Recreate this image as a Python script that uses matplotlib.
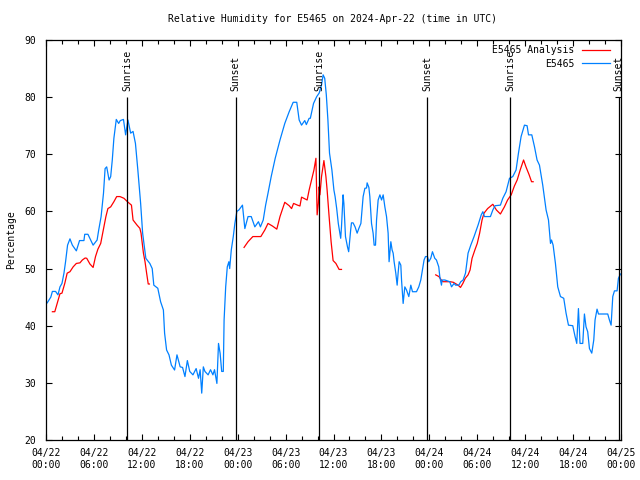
import numpy as np
import pandas as pd
import matplotlib
matplotlib.use('Agg')
import matplotlib.pyplot as plt
import matplotlib.dates as mdates

plt.rcParams['font.family'] = 'DejaVu Sans Mono'
plt.rcParams['font.size'] = 7

start = pd.Timestamp('2024-04-22 00:00')
end = pd.Timestamp('2024-04-25 00:00')

# observed RH, hours after 04/22 00:00 UTC
obs_h = [0.15, 0.6, 0.8, 1.2, 1.5, 1.75, 2.0, 2.25, 2.45, 2.7, 3.0, 3.3, 3.8, 4.2, 4.75, 4.85,
         5.25, 5.9, 6.4, 6.6, 6.9, 7.2, 7.4, 7.6, 7.9, 8.1, 8.3, 8.5, 8.8, 9.1, 9.3, 9.7,
         9.97, 10.26, 10.6, 10.9, 11.2, 11.5, 11.85, 12.1, 12.5, 13.0, 13.3, 13.5, 14.0, 14.35,
         14.7, 14.85, 15.1, 15.4, 15.7, 16.1, 16.4, 16.8, 17.1, 17.4, 17.7, 18.0, 18.4, 18.8,
         19.1, 19.3, 19.5, 19.7, 19.9, 20.3, 20.6, 20.9, 21.1, 21.4, 21.6, 21.8, 22.0, 22.2,
         22.3, 22.5, 22.7, 22.9, 23.0, 23.2, 23.45, 23.65, 23.9, 24.15, 24.6, 24.9, 25.3, 25.7,
         26.15, 26.6, 26.85, 27.2, 27.5, 27.8, 28.2, 28.7, 29.3, 29.9, 30.45, 30.95, 31.4, 31.7,
         32.0, 32.4, 32.6, 32.95, 33.1, 33.5, 33.9, 34.2, 34.5, 34.7, 34.9, 35.1, 35.3, 35.5,
         35.8, 36.05, 36.2, 36.4, 36.6, 36.8, 36.9, 37.0, 37.2, 37.3, 37.5, 37.75, 37.9, 38.15,
         38.25, 38.45, 38.7, 38.96, 39.18, 39.43, 39.71, 39.93, 40.14, 40.21, 40.43, 40.55,
         40.76, 40.96, 41.09, 41.26, 41.39, 41.59, 41.81, 42.02, 42.22, 42.43, 42.64, 42.84,
         42.96, 43.18, 43.34, 43.47, 43.59, 43.8, 43.97, 44.09, 44.22, 44.43, 44.52, 44.72,
         44.93, 45.14, 45.43, 45.68, 45.89, 46.39, 46.68, 46.93, 47.14, 47.34, 47.52, 47.77,
         47.93, 48.18, 48.39, 48.68, 48.89, 49.18, 49.31, 49.52, 49.6, 49.94, 50.56, 50.78,
         51.1, 51.28, 51.69, 51.94, 52.23, 52.53, 52.85, 53.19, 53.6, 54.1, 54.5, 54.7, 54.9,
         55.65, 55.95, 56.23, 56.9, 57.2, 57.61, 58.04, 58.45, 58.86, 59.16, 59.49, 59.91,
         60.24, 60.42, 60.83, 61.17, 61.49, 61.79, 62.2, 62.62, 62.92, 63.17, 63.3, 63.5,
         63.79, 64.08, 64.42, 64.83, 65.12, 65.42, 65.96, 66.25, 66.46, 66.67, 66.87, 67.21,
         67.42, 67.62, 67.83, 68.05, 68.34, 68.59, 68.75, 69.0, 69.18, 70.34, 70.55, 70.76,
         70.97, 71.18, 71.51, 71.68, 71.93]
obs_v = [44.0, 45.0, 46.0, 46.0, 45.4, 46.8, 47.4, 49.2, 51.2, 54.1, 55.2, 54.1, 53.1, 54.9, 54.9, 56.0,
         56.0, 54.1, 55.0, 56.75, 59.1, 63.2, 67.5, 67.8, 65.5, 66.1, 69.0, 72.8, 76.1, 75.4, 75.9, 76.1,
         73.4, 76.0, 73.7, 74.0, 71.9, 67.25, 61.4, 56.2, 51.8, 50.9, 50.0, 47.1, 46.55, 44.2,
         42.75, 38.7, 35.75, 34.9, 33.1, 32.25, 34.9, 32.8, 32.7, 31.1, 33.9, 32.0, 31.4, 32.5,
         30.8, 32.3, 28.2, 32.8, 32.0, 31.4, 32.3, 31.4, 32.3, 29.9, 36.9, 35.2, 32.0, 32.0,
         41.0, 46.8, 50.3, 51.2, 50.0, 53.25, 55.6, 57.9, 60.0, 60.25, 61.1, 57.0, 59.1, 59.1,
         57.3, 58.2, 57.3, 58.5, 61.1, 63.2, 66.1, 69.3, 72.5, 75.4, 77.45, 79.1, 79.1, 76.0,
         75.1, 75.9, 75.2, 76.3, 76.3, 78.9, 80.1, 80.7, 82.1, 83.9, 83.3, 80.4, 76.0, 70.2,
         67.25, 63.75, 62.6, 60.5, 57.9, 56.2, 55.3, 57.3, 62.9, 61.4, 55.6, 53.8, 52.95, 56.75,
         58.0, 58.0, 57.3, 56.2, 57.05, 57.9, 62.6, 64.05, 64.1, 65.0, 64.2, 62.6,
         57.9, 56.2, 54.1, 54.1, 58.5, 62.0, 62.9, 62.0, 62.9, 60.8, 59.1, 56.2,
         51.2, 54.7, 53.25, 52.7, 51.2, 49.2, 47.1, 49.2, 51.2, 50.6, 48.0, 43.9,
         46.8, 46.25, 45.1, 47.1, 45.95, 45.95, 46.8, 48.0, 49.75, 51.5, 52.1, 52.1,
         51.2, 51.8, 52.95, 51.8, 51.5, 50.3, 48.6, 47.1, 48.0, 48.0, 47.7, 46.8,
         47.4, 47.1, 47.1, 47.7, 48.0, 49.2, 52.7, 54.1, 55.6, 57.6, 59.4, 59.95, 59.1,
         59.1, 60.25, 61.0, 61.1, 62.3, 63.45, 65.8, 66.1, 67.25, 70.2, 73.1, 75.1,
         75.0, 73.4, 73.4, 71.3, 69.0, 68.1, 64.6, 60.25, 58.5, 54.4, 55.0, 54.1,
         50.9, 46.8, 45.1, 44.8, 42.2, 40.1, 40.0, 38.1, 36.9, 43.0, 36.9, 36.9,
         42.05, 39.8, 38.95, 36.0, 35.2, 37.5, 41.0, 42.9, 42.05, 42.05, 41.0, 40.1,
         45.1, 46.1, 46.1, 48.3, 49.05]

# analysis RH, three separate runs
ana1_h = [0.8, 1.1, 1.4, 1.75, 2.0, 2.35, 2.65, 3.0, 3.4, 3.8, 4.25, 4.55, 4.9, 5.1, 5.5, 5.9,
          6.2, 6.5, 6.85, 7.25, 7.5, 7.75, 8.1, 8.5, 8.85, 9.26, 9.76, 10.2, 10.7, 10.9, 11.4,
          11.75, 11.9, 12.2, 12.4, 12.6, 12.8, 12.95]
ana1_v = [42.45, 42.45, 43.9, 45.6, 45.7, 47.4, 49.2, 49.45, 50.3, 50.9, 51.0, 51.5, 51.85, 51.8,
          50.8, 50.2, 52.1, 53.4, 54.4, 57.3, 59.1, 60.5, 60.8, 61.7, 62.6, 62.6, 62.3, 61.7,
          61.1, 58.5, 57.6, 57.05, 56.2, 52.7, 51.2, 49.2, 47.3, 47.3]
ana2_h = [24.8, 25.3, 25.9, 26.9, 27.4, 27.8, 28.35, 28.9, 29.3, 29.9, 30.45, 30.75, 31.0, 31.5,
          31.8, 32.0, 32.7, 32.95, 33.25, 33.55, 33.8, 33.95, 34.1, 34.2, 34.3, 34.5, 34.8,
          35.05, 35.2, 35.45, 35.7, 35.95, 36.3, 36.7, 37.0]
ana2_v = [53.7, 54.7, 55.6, 55.6, 56.75, 57.9, 57.45, 56.9, 59.1, 61.6, 61.0, 60.5, 61.4, 61.1,
          60.95, 62.5, 62.0, 63.75, 65.5, 67.25, 69.3, 59.4, 61.4, 64.3, 62.9, 66.1, 68.9,
          66.1, 63.75, 59.1, 54.7, 51.4, 50.9, 49.85, 49.85]
ana3_h = [48.8, 49.2, 49.5, 49.7, 50.6, 51.0, 51.6, 51.9, 52.2, 52.5, 52.85, 53.1, 53.35, 53.7,
          54.0, 54.3, 54.6, 54.85, 55.3, 55.95, 56.4, 56.9, 57.4, 57.8, 58.25, 58.65, 59.0,
          59.4, 59.8, 60.1, 60.5, 60.8, 61.0]
ana3_v = [48.9, 48.6, 48.0, 47.7, 47.7, 47.6, 47.1, 46.7, 47.4, 48.3, 48.9, 49.75, 51.8, 53.25,
          54.4, 56.2, 58.5, 59.7, 60.5, 61.25, 60.25, 59.55, 60.8, 62.0, 62.9, 64.45, 65.5,
          67.35, 69.0, 67.8, 66.4, 65.2, 65.2]

sunrise_h = [10.17, 34.2, 58.1]
sunset_h = [23.74, 47.7, 71.7]


def to_time(hours):
    return start + pd.to_timedelta(np.array(hours), unit='h')


fig = plt.figure(figsize=(6.4, 4.8), dpi=100)
ax = fig.add_axes([46 / 640, 40 / 480, 575 / 640, 400 / 480])

red = '#ff0000'
blue = '#0080ff'
ax.plot(to_time(ana1_h), ana1_v, color=red, lw=0.9, label='E5465 Analysis')
ax.plot(to_time(ana2_h), ana2_v, color=red, lw=0.9)
ax.plot(to_time(ana3_h), ana3_v, color=red, lw=0.9)
ax.plot(to_time(obs_h), obs_v, color=blue, lw=0.9, label='E5465')

# sunrise / sunset markers
for hrs, name in [(sunrise_h, 'Sunrise'), (sunset_h, 'Sunset')]:
    ts = to_time(hrs)
    ax.vlines(ts, 20, 80, color='black', lw=0.9)
    for t in ts:
        ax.text(t, 81, name, rotation=90, ha='center', va='bottom', fontsize=7)

ax.set_xlim(start, end)
ax.set_ylim(20, 90)
ax.set_yticks(np.arange(20, 91, 10))
ax.xaxis.set_major_locator(mdates.HourLocator(byhour=[0, 6, 12, 18]))
ax.xaxis.set_minor_locator(mdates.HourLocator(interval=2))
ax.xaxis.set_major_formatter(mdates.DateFormatter('%m/%d\n%H:%M'))
ax.tick_params(which='both', direction='in', top=True, right=True, width=0.8)
ax.tick_params(which='major', length=4.5)
ax.tick_params(which='minor', length=3)
ax.tick_params(axis='x', pad=5.5)
ax.tick_params(axis='y', pad=7)
for lab in ax.get_xticklabels():
    lab.set_linespacing(1.35)
for s in ax.spines.values():
    s.set_linewidth(0.9)

ax.set_ylabel('Percentage', labelpad=6)
fig.text(333 / 640, 1 - 19 / 480, 'Relative Humidity for E5465 on 2024-Apr-22 (time in UTC)',
         ha='center', va='center', fontsize=7)

ax.legend(loc='upper right', bbox_to_anchor=(0.98, 0.987), frameon=False, markerfirst=False,
          borderpad=0, borderaxespad=0, handlelength=2.85, handletextpad=0.8,
          labelspacing=0.35, fontsize=7)

plt.savefig('out.png', dpi=100)
